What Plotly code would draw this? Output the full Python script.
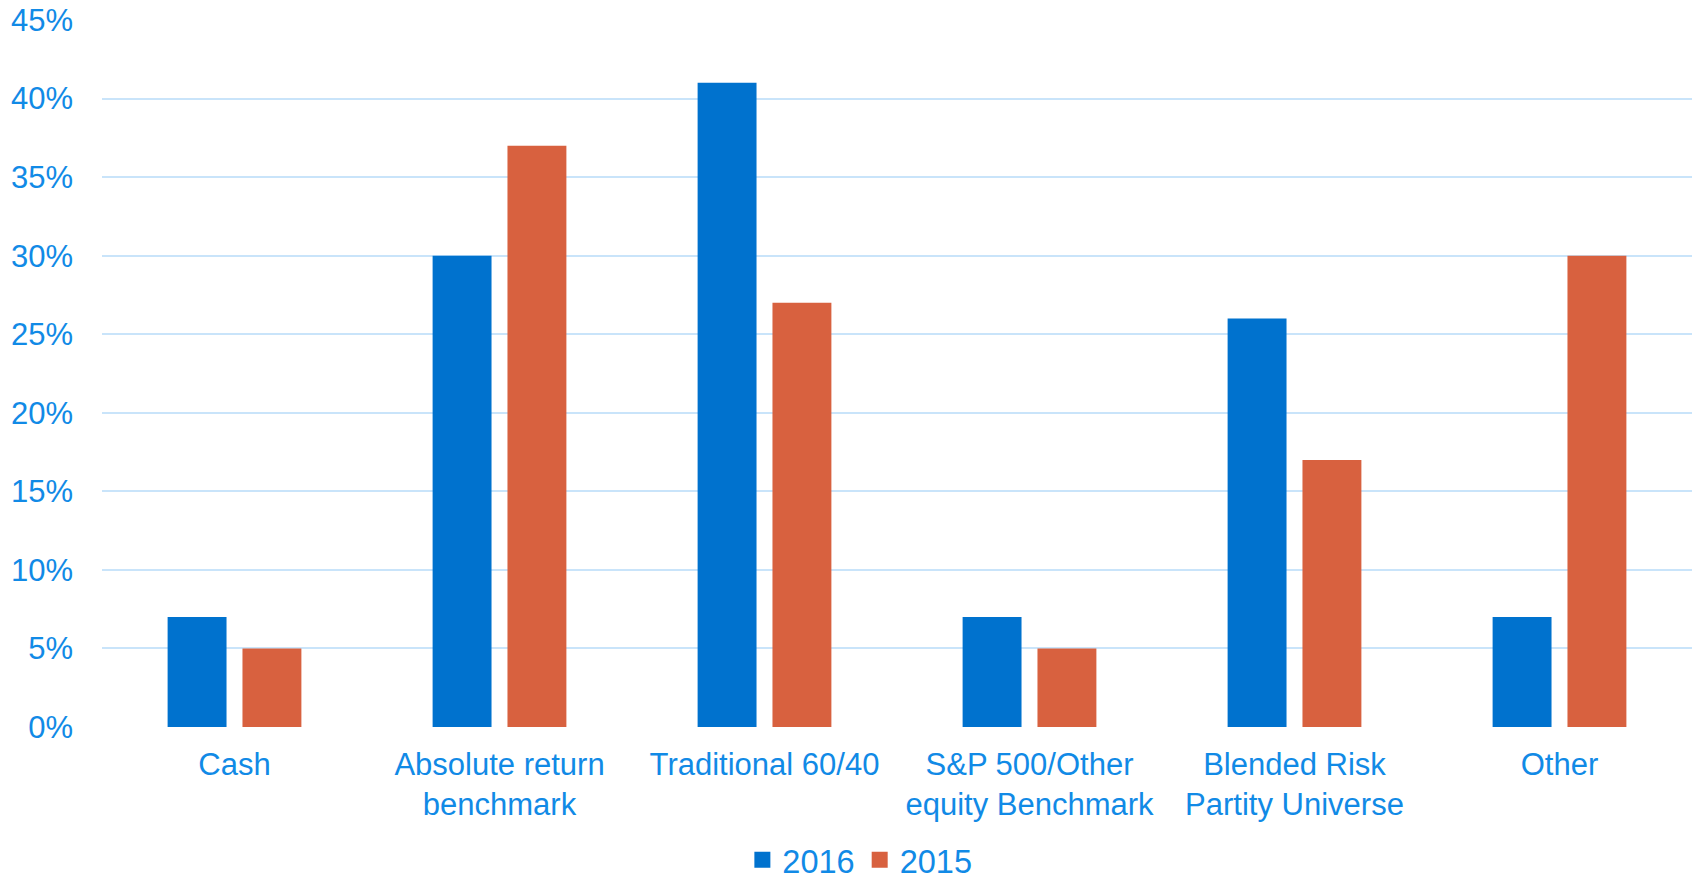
import plotly.graph_objects as go

categories = [
    "Cash",
    "Absolute return<br>benchmark",
    "Traditional 60/40",
    "S&P 500/Other<br>equity Benchmark",
    "Blended Risk<br>Partity Universe",
    "Other",
]
values_2016 = [7, 30, 41, 7, 26, 7]
values_2015 = [5, 37, 27, 5, 17, 30]
y_ticks = [0, 5, 10, 15, 20, 25, 30, 35, 40, 45]
y_tick_labels = [f"{v}%" for v in y_ticks]

BLUE = "#0072CE"
ORANGE = "#D8613F"
TEXT = "#118AE6"
GRID = "#C9E4FA"
FONT = "Liberation Sans, Arial, sans-serif"

fig = go.Figure()
fig.add_trace(go.Bar(x=categories, y=values_2016, name="2016",
                     marker=dict(color=BLUE, line=dict(width=0)), showlegend=False))
fig.add_trace(go.Bar(x=categories, y=values_2015, name="2015",
                     marker=dict(color=ORANGE, line=dict(width=0)), showlegend=False))

# legend entries with larger square swatches
for name, color in [("2016", BLUE), ("2015", ORANGE)]:
    fig.add_trace(go.Scatter(x=[None], y=[None], mode="markers", name=name,
                             marker=dict(symbol="square", size=16, color=color)))

fig.update_layout(
    width=1696, height=876,
    margin=dict(l=102, r=4, t=20, b=149, autoexpand=False),
    paper_bgcolor="white", plot_bgcolor="white",
    font=dict(family=FONT, size=31, color=TEXT),
    barmode="group", bargap=0.435, bargroupgap=0.213,
    legend=dict(orientation="h", xref="container", yref="container",
                x=0.507, xanchor="center", y=0.018, yanchor="middle",
                font=dict(size=32.5, color=TEXT), itemwidth=30, tracegroupgap=0),
    xaxis=dict(showgrid=False, showline=False, ticks="", zeroline=False,
               ticklabelstandoff=16, tickfont=dict(size=31, color=TEXT)),
    yaxis=dict(range=[0, 45], tickvals=y_ticks, ticktext=y_tick_labels,
               showgrid=True, gridcolor=GRID, gridwidth=2, zeroline=False,
               showline=False, ticks="", ticklabelstandoff=28,
               tickfont=dict(size=31, color=TEXT)),
)

fig.write_html("out.html")
